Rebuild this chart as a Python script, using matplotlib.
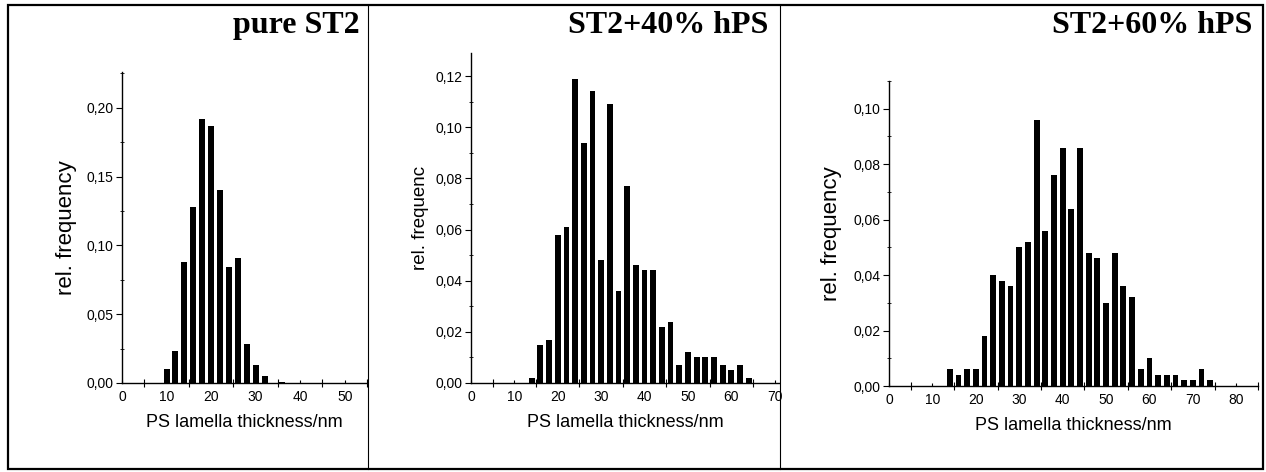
import numpy as np
import matplotlib
matplotlib.use("Agg")
import matplotlib.pyplot as plt
from matplotlib.ticker import MultipleLocator, FuncFormatter
from matplotlib.patches import Rectangle
from matplotlib.lines import Line2D

plt.rcParams['font.family'] = 'Liberation Sans'

# pure ST2
x1 = [10, 12, 14, 16, 18, 20, 22, 24, 26, 28, 30, 32, 36]
y1 = [0.010, 0.023, 0.088, 0.128, 0.192, 0.187, 0.140, 0.084, 0.091, 0.028, 0.013, 0.005, 0.001]

# ST2 + 40% hPS
x2 = list(range(14, 66, 2))
y2 = [0.002, 0.015, 0.017, 0.058, 0.061, 0.119, 0.094, 0.114, 0.048, 0.109,
      0.036, 0.077, 0.046, 0.044, 0.044, 0.022, 0.024, 0.007, 0.012, 0.010,
      0.010, 0.010, 0.007, 0.005, 0.007, 0.002]

# ST2 + 60% hPS
x3 = list(range(14, 76, 2))
y3 = [0.006, 0.004, 0.006, 0.006, 0.018, 0.040, 0.038, 0.036, 0.050, 0.052,
      0.096, 0.056, 0.076, 0.086, 0.064, 0.086, 0.048, 0.046, 0.030, 0.048,
      0.036, 0.032, 0.006, 0.010, 0.004, 0.004, 0.004, 0.002, 0.002, 0.006,
      0.002]

titles = ["pure ST2", "ST2+40% hPS", "ST2+60% hPS"]
ylabels = ["rel. frequency", "rel. frequenc", "rel. frequency"]
xlabel = "PS lamella thickness/nm"

W, H = 1266, 472
fig = plt.figure(figsize=(W / 100, H / 100), dpi=100)


def px_axes(left, top, right, bottom):
    return fig.add_axes([left / W, 1 - bottom / H, (right - left) / W, (bottom - top) / H])


comma = FuncFormatter(lambda v, p: f"{v:.2f}".replace('.', ','))

panels = [
    dict(box=(122, 72, 367, 383), x=x1, y=y1, xlim=55, ylim=0.226, ymaj=0.05, ymin=0.025,
         ylfs=16, ylpad=7),
    dict(box=(471, 53, 779, 383), x=x2, y=y2, xlim=71, ylim=0.129, ymaj=0.02, ymin=0.01,
         ylfs=13.5, ylpad=5),
    dict(box=(889, 81, 1258, 386), x=x3, y=y3, xlim=85, ylim=0.110, ymaj=0.02, ymin=0.01,
         ylfs=16, ylpad=8),
]

for i, p in enumerate(panels):
    ax = px_axes(*p['box'])
    ax.bar(p['x'], p['y'], width=1.35, color='black', align='center')
    ax.set_xlim(0, p['xlim'])
    ax.set_ylim(0, p['ylim'])
    ax.spines['top'].set_visible(False)
    ax.spines['right'].set_visible(False)
    for s in ('left', 'bottom'):
        ax.spines[s].set_linewidth(1.0)
    ax.xaxis.set_major_locator(MultipleLocator(10))
    ax.xaxis.set_minor_locator(MultipleLocator(5))
    ax.yaxis.set_major_locator(MultipleLocator(p['ymaj']))
    ax.yaxis.set_minor_locator(MultipleLocator(p['ymin']))
    ax.yaxis.set_major_formatter(comma)
    ax.tick_params(axis='x', which='major', direction='in', length=2, labelsize=10, pad=5)
    ax.tick_params(axis='x', which='minor', direction='inout', length=6, width=0.8)
    ax.tick_params(axis='y', which='major', direction='out', length=4, labelsize=10, pad=2)
    ax.tick_params(axis='y', which='minor', direction='inout', length=3, width=0.6)
    ax.set_xlabel(xlabel, fontsize=13, labelpad=7)
    ax.set_ylabel(ylabels[i], fontsize=p['ylfs'], labelpad=p['ylpad'])

# panel titles
title_right = [360, 768, 1252]
for t, xr in zip(titles, title_right):
    fig.text(xr / W, 1 - 33 / H, t, ha='right', va='baseline', fontsize=23,
             fontweight='bold', family='Liberation Serif')

# outer frame and dividers
fig.add_artist(Rectangle((8 / W, 1 - 469 / H), (1263 - 8) / W, (469 - 5) / H,
                         transform=fig.transFigure, fill=False, lw=1.6, color='black'))
for xd in (368, 780):
    fig.add_artist(Line2D([xd / W, xd / W], [1 - 469 / H, 1 - 5 / H],
                          transform=fig.transFigure, lw=0.8, color='black'))

fig.savefig("out.png", dpi=100)
